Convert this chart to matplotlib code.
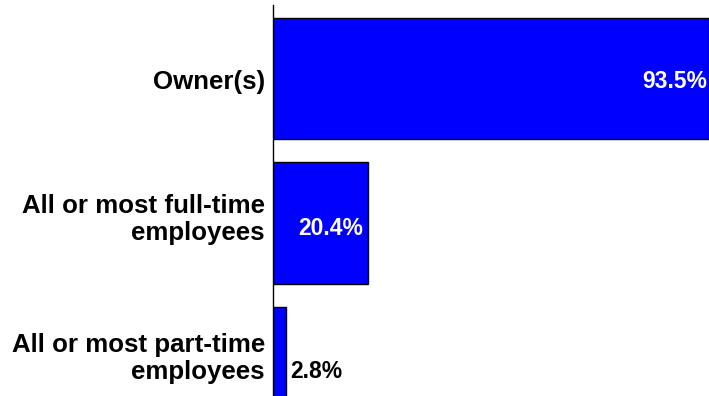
import matplotlib
matplotlib.use("Agg")
import matplotlib.pyplot as plt

categories = ["Owner(s)", "All or most full-time\nemployees", "All or most part-time\nemployees"]
values = [93.5, 20.4, 2.8]
value_labels = ["93.5%", "20.4%", "2.8%"]

plt.rcParams["font.family"] = ["Liberation Sans", "DejaVu Sans"]

fig = plt.figure(figsize=(7.09, 3.96), dpi=100)
ax = fig.add_axes([273 / 709, -45 / 396, 1 - 273 / 709, 436 / 396])

pos = list(range(len(categories)))
ax.barh(pos, values, height=0.84, color="#0000FF", edgecolor="black", linewidth=1.0)

ax.set_xlim(0, 93.6)
ax.set_ylim(2.51, -0.51)
ax.set_yticks([])
ax.set_xticks([])
for s in ("top", "right", "bottom"):
    ax.spines[s].set_visible(False)
ax.spines["left"].set_linewidth(1.0)

# one data unit on the y axis is about 144.5 pixels
unit = 144.5
ytrans = ax.get_yaxis_transform()

# category labels, drawn line by line to the left of the axis
line_baselines = [[10.5], [-10, 17], [-15, 12]]
for p, name, offs in zip(pos, categories, line_baselines):
    for line, off in zip(name.split("\n"), offs):
        ax.text(-8 / 436, p + off / unit, line, transform=ytrans, ha="right",
                va="baseline", fontsize=18.6, fontweight="bold", color="black",
                clip_on=False)

# value labels
for p, v, lab in zip(pos, values, value_labels):
    if v > 50:
        ax.text(v - 0.3, p + 9.5 / unit, lab, ha="right", va="baseline",
                color="white", fontsize=16.5, fontweight="bold")
    elif v > 10:
        ax.text(v - 1.0, p + 12 / unit, lab, ha="right", va="baseline",
                color="white", fontsize=16.5, fontweight="bold")
    else:
        ax.text(v + 0.9, p + 11 / unit, lab, ha="left", va="baseline",
                color="black", fontsize=16.5, fontweight="bold")

fig.savefig("out.png", dpi=100)
